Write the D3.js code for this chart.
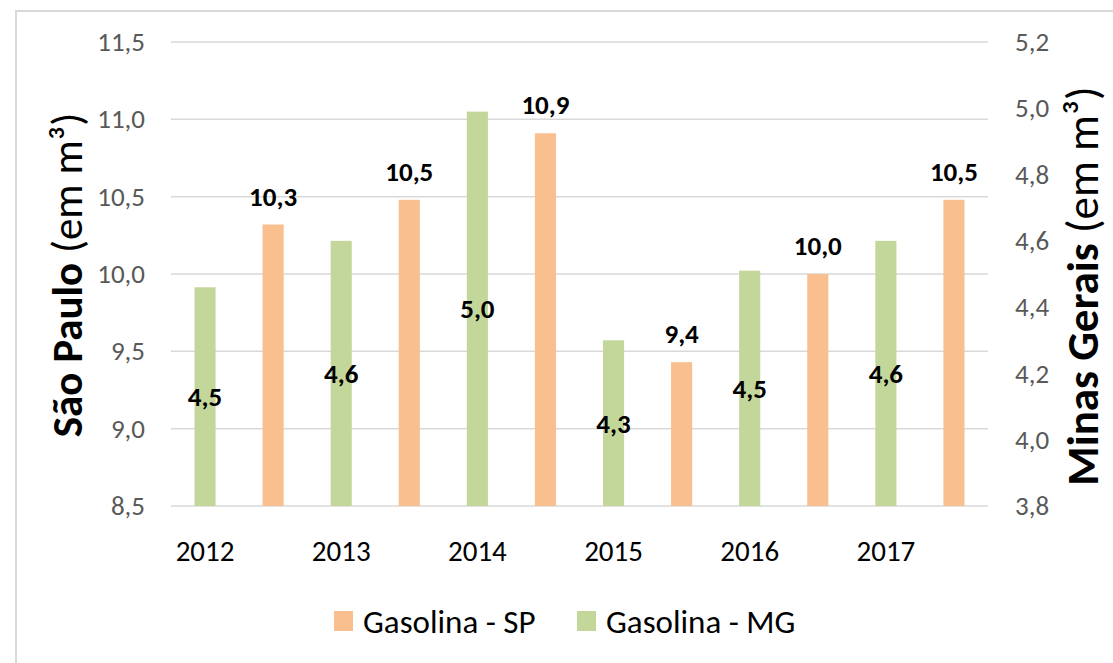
<!DOCTYPE html>
<html>
<head>
<meta charset="utf-8">
<script src="https://cdn.jsdelivr.net/npm/d3@7"></script>
<style>
  body { margin: 0; background: #fff; }
  svg text { font-family: Calibri, Carlito, "Liberation Sans Narrow", "Open Sans", sans-serif; }
</style>
</head>
<body>
<svg width="1113" height="663"></svg>
<script>
// Data
var years = ["2012", "2013", "2014", "2015", "2016", "2017"];
var gasolinaSP = [10.32, 10.48, 10.91, 9.43, 10.0, 10.48];
var gasolinaMG = [4.46, 4.60, 4.99, 4.30, 4.51, 4.60];
var leftTicks = [8.5, 9.0, 9.5, 10.0, 10.5, 11.0, 11.5];
var rightTicks = [3.8, 4.0, 4.2, 4.4, 4.6, 4.8, 5.0, 5.2];
var seriesNames = ["Gasolina - SP", "Gasolina - MG"];
var colors = { SP: "#FABF8F", MG: "#C4D79B" };

var svg = d3.select("svg");
var plotLeft = 171, plotRight = 988, plotTop = 42, plotBottom = 506;

var fmt = function(d) { return d.toFixed(1).replace(".", ","); };

// frame
svg.append("rect")
  .attr("x", 16).attr("y", 11)
  .attr("width", 1120).attr("height", 670)
  .attr("fill", "none").attr("stroke", "#D9D9D9").attr("stroke-width", 2);

var x = d3.scaleBand().domain(years).range([plotLeft, plotRight]);
var sub = d3.scaleBand().domain(["MG", "SP"]).range([0, x.bandwidth()])
  .paddingInner(0.69).paddingOuter(0.345);
var yL = d3.scaleLinear().domain([8.5, 11.5]).range([plotBottom, plotTop]);
var yR = d3.scaleLinear().domain([3.8, 5.2]).range([plotBottom, plotTop]);

//gridlines from the primary axis
svg.append("g").selectAll("line")
  .data(leftTicks)
  .enter().append("line")
  .attr("x1", plotLeft).attr("x2", plotRight)
  .attr("y1", d => yL(d)).attr("y2", d => yL(d))
  .attr("stroke", "#D9D9D9").attr("stroke-width", 1.5);

// axes
var axL = svg.append("g").attr("transform", "translate(" + plotLeft + ",0)")
  .call(d3.axisLeft(yL).tickValues(leftTicks).tickFormat(fmt).tickSize(0).tickPadding(26));
var axR = svg.append("g").attr("transform", "translate(" + plotRight + ",0)")
  .call(d3.axisRight(yR).tickValues(rightTicks).tickFormat(fmt).tickSize(0).tickPadding(27));
[axL, axR].forEach(function(a) {
  a.select(".domain").remove();
  a.selectAll("text").attr("fill", "#595959").style("font-size", "27px");
});

var axB = svg.append("g").attr("transform", "translate(0," + plotBottom + ")")
  .call(d3.axisBottom(x).tickSize(0).tickPadding(34));
axB.select(".domain").remove();
axB.selectAll(".tick")
  .attr("transform", d => "translate(" + (x(d) + sub("MG") + sub.bandwidth() / 2) + ",0)");
axB.selectAll("text").attr("fill", "#000").style("font-size", "29px");

// bars
var mg = years.map((y, i) => ({ year: y, v: gasolinaMG[i] }));
var sp = years.map((y, i) => ({ year: y, v: gasolinaSP[i] }));

svg.append("g").selectAll("rect")
  .data(mg).enter().append("rect")
  .attr("x", d => x(d.year) + sub("MG"))
  .attr("width", sub.bandwidth())
  .attr("y", d => yR(d.v))
  .attr("height", d => plotBottom - yR(d.v))
  .attr("fill", colors.MG);

svg.append("g").selectAll("rect")
  .data(sp).enter().append("rect")
  .attr("x", d => x(d.year) + sub("SP"))
  .attr("width", sub.bandwidth())
  .attr("y", d => yL(d.v))
  .attr("height", d => plotBottom - yL(d.v))
  .attr("fill", colors.SP);

// labels
svg.append("g").selectAll("text")
  .data(sp).enter().append("text")
  .attr("x", d => x(d.year) + sub("SP") + sub.bandwidth() / 2)
  .attr("y", d => yL(d.v) - 19)
  .attr("text-anchor", "middle")
  .style("font-size", "27px").style("font-weight", "bold")
  .text(d => fmt(d.v));

svg.append("g").selectAll("text")
  .data(mg).enter().append("text")
  .attr("x", d => x(d.year) + sub("MG") + sub.bandwidth() / 2)
  .attr("y", d => (yR(d.v) + plotBottom) / 2)
  .attr("dy", "0.35em")
  .attr("text-anchor", "middle")
  .style("font-size", "27px").style("font-weight", "bold")
  .text(d => fmt(d.v));

// axis titles
function axisTitle(tx, ty, bold, size) {
  var t = svg.append("text")
    .attr("transform", "translate(" + tx + "," + ty + ") rotate(-90)")
    .attr("text-anchor", "middle")
    .style("font-size", size + "px");
  t.append("tspan").style("font-weight", "bold").text(bold);
  t.append("tspan").text(" (em m³)");
}
axisTitle(82, 275, "São Paulo", 43);
axisTitle(1098, 286, "Minas Gerais", 45);

// legend
var legend = svg.append("g");
var legendItems = [
  { name: seriesNames[0], color: colors.SP, x: 334 },
  { name: seriesNames[1], color: colors.MG, x: 577 }
];
legendItems.forEach(function(d) {
  legend.append("rect")
    .attr("x", d.x).attr("y", 611)
    .attr("width", 19).attr("height", 20)
    .attr("fill", d.color);
  legend.append("text")
    .attr("x", d.x + 29).attr("y", 621)
    .attr("dy", "0.35em")
    .style("font-size", "33px")
    .text(d.name);
});
</script>
</body>
</html>
